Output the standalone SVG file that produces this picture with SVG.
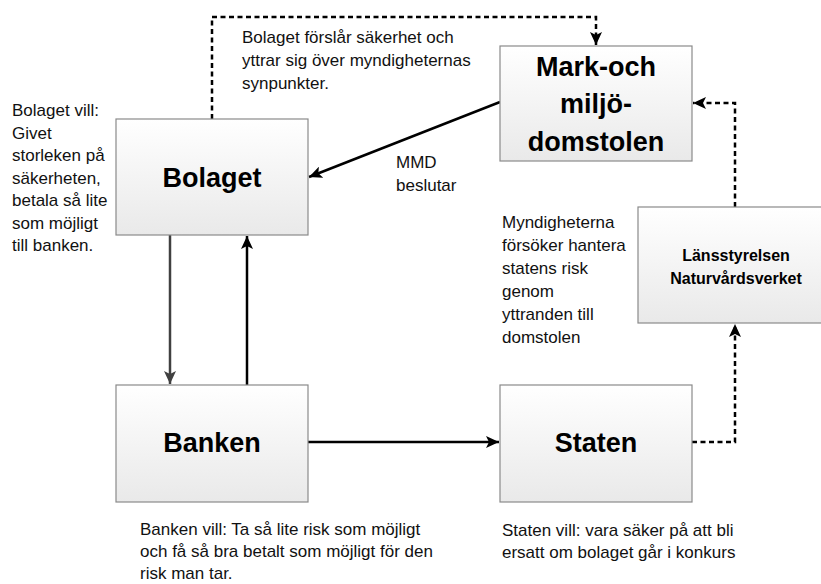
<svg xmlns="http://www.w3.org/2000/svg" width="821" height="584" viewBox="0 0 821 584">
<style>
.box{fill:url(#g);stroke:#8a8a8a;stroke-width:1.2}
.title{font-family:"Liberation Sans",Arial,sans-serif;font-weight:bold;font-size:27px;fill:#000;text-anchor:middle}
.small{font-family:"Liberation Sans",Arial,sans-serif;font-weight:bold;font-size:16px;fill:#000;text-anchor:middle}
.note{font-family:"Liberation Sans",Arial,sans-serif;font-size:17px;fill:#111}
.solid{fill:none;stroke:#000;stroke-width:2.5;marker-end:url(#ah)}
.gray{fill:none;stroke:#404040;stroke-width:2.5;marker-end:url(#ahg)}
.dash{fill:none;stroke:#000;stroke-width:2.5;stroke-dasharray:5 3.5;marker-end:url(#ah)}
</style>
<defs>
<linearGradient id="g" x1="0" y1="0" x2="0" y2="1">
<stop offset="0" stop-color="#ffffff"/>
<stop offset="1" stop-color="#e9e9e9"/>
</linearGradient>
<marker id="ah" markerUnits="userSpaceOnUse" markerWidth="14" markerHeight="12" refX="13" refY="6" orient="auto">
<path d="M0,0 L13,6 L0,12 L3,6 Z" fill="#000"/>
</marker>
<marker id="ahg" markerUnits="userSpaceOnUse" markerWidth="14" markerHeight="12" refX="13" refY="6" orient="auto">
<path d="M0,0 L13,6 L0,12 L3,6 Z" fill="#404040"/>
</marker>
</defs>
<rect width="821" height="584" fill="#fff"/>

<g id="connectors">
<path class="dash" d="M212,119 V17 H596 V45"/>
<path class="solid" d="M500,102 L309,177"/>
<path class="dash" d="M735,207 V103 H693"/>
<path class="dash" d="M692,442 H735 V324"/>
<path class="solid" d="M308,442 H499"/>
<path class="gray" d="M170,235 V384"/>
<path class="solid" d="M247,385 V236"/>
</g>

<g id="bolaget">
<rect class="box" x="116" y="119" width="192" height="116"/>
<text class="title" x="212" y="187">Bolaget</text>
</g>

<g id="mmd">
<rect class="box" x="500" y="46" width="192" height="115"/>
<text class="title" x="596" y="76">Mark-och</text>
<text class="title" x="596" y="113">miljö-</text>
<text class="title" x="596" y="151">domstolen</text>
</g>

<g id="lansstyrelsen">
<rect class="box" x="638" y="207" width="196" height="116"/>
<text class="small" x="736" y="261">Länsstyrelsen</text>
<text class="small" x="736" y="284">Naturvårdsverket</text>
</g>

<g id="banken">
<rect class="box" x="116" y="385" width="192" height="117"/>
<text class="title" x="212" y="452">Banken</text>
</g>

<g id="staten">
<rect class="box" x="500" y="385" width="192" height="117"/>
<text class="title" x="596" y="452">Staten</text>
</g>

<g id="labels">
<text class="note" x="242" y="43">Bolaget förslår säkerhet och</text>
<text class="note" x="242" y="66">yttrar sig över myndigheternas</text>
<text class="note" x="242" y="89">synpunkter.</text>

<text class="note" x="12" y="116">Bolaget vill:</text>
<text class="note" x="12" y="138.5">Givet</text>
<text class="note" x="12" y="161">storleken på</text>
<text class="note" x="12" y="183.5">säkerheten,</text>
<text class="note" x="12" y="206">betala så lite</text>
<text class="note" x="12" y="228.5">som möjligt</text>
<text class="note" x="12" y="251">till banken.</text>

<text class="note" x="396" y="168">MMD</text>
<text class="note" x="396" y="191">beslutar</text>

<text class="note" x="502" y="228">Myndigheterna</text>
<text class="note" x="502" y="251">försöker hantera</text>
<text class="note" x="502" y="274">statens risk</text>
<text class="note" x="502" y="297">genom</text>
<text class="note" x="502" y="320">yttranden till</text>
<text class="note" x="502" y="343">domstolen</text>

<text class="note" x="140" y="535">Banken vill: Ta så lite risk som möjligt</text>
<text class="note" x="140" y="557">och få så bra betalt som möjligt för den</text>
<text class="note" x="140" y="579">risk man tar.</text>

<text class="note" x="502" y="536">Staten vill: vara säker på att bli</text>
<text class="note" x="502" y="558">ersatt om bolaget går i konkurs</text>
</g>
</svg>
